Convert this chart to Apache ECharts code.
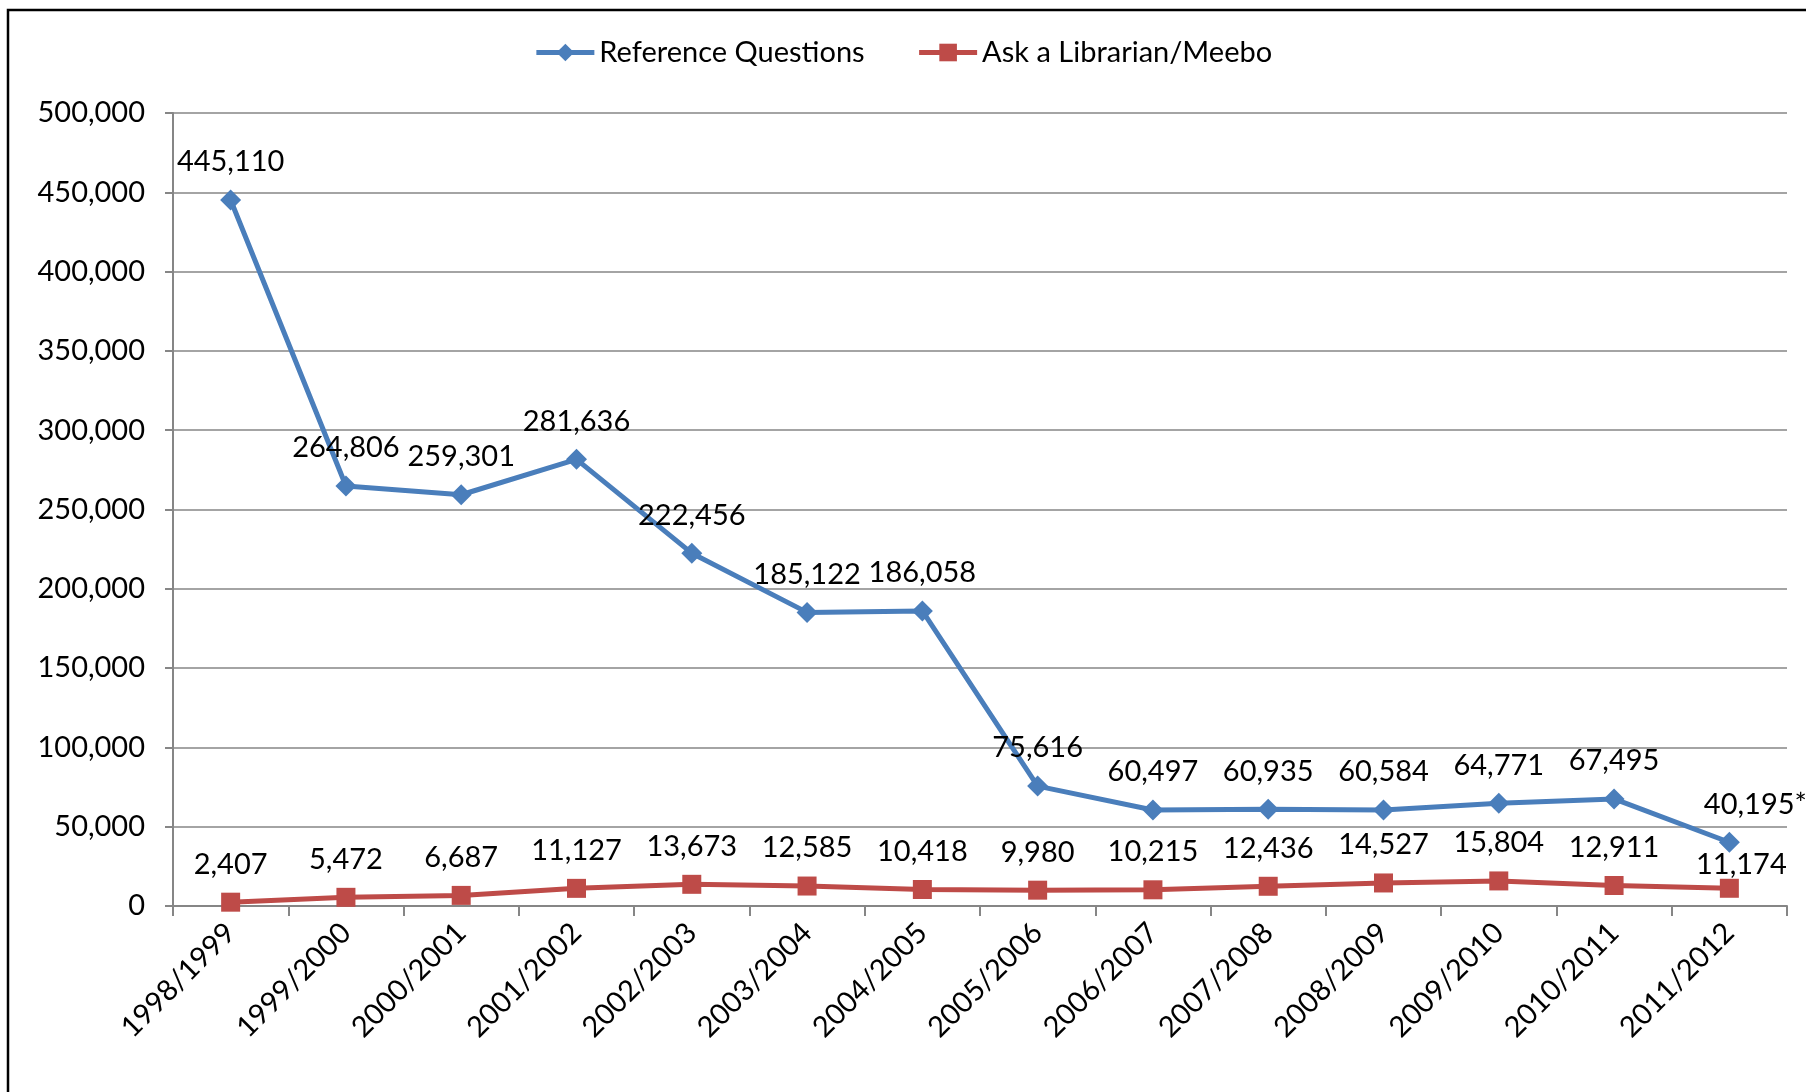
<!DOCTYPE html>
<html>
<head>
<meta charset="utf-8">
<script src="https://cdn.jsdelivr.net/npm/echarts@6/dist/echarts.min.js"></script>
<style>
  html, body { margin: 0; padding: 0; background: #fff; }
  #main { width: 1806px; height: 1092px; }
</style>
</head>
<body>
<div id="main"></div>
<script>
var years = ['1998/1999', '1999/2000', '2000/2001', '2001/2002', '2002/2003', '2003/2004', '2004/2005',
	'2005/2006', '2006/2007', '2007/2008', '2008/2009', '2009/2010', '2010/2011', '2011/2012'];
var refQuestions = [445110, 264806, 259301, 281636, 222456, 185122, 186058, 75616, 60497, 60935, 60584, 64771, 67495, 40195];
var askLibrarian = [2407, 5472, 6687, 11127, 13673, 12585, 10418, 9980, 10215, 12436, 14527, 15804, 12911, 11174];
var yTicks = [0, 50000, 100000, 150000, 200000, 250000, 300000, 350000, 400000, 450000, 500000];

var fontName = 'Lato';
var fontSz = 29;
function fmt(v) { return v.toLocaleString('en-US'); }

var myChart = echarts.init(document.getElementById('main'));

// last reference point carries an asterisk in the original
var refData = refQuestions.map(function(v, i) {
	if (i === refQuestions.length - 1) {
		return { value: v, label: { formatter: fmt(v) + '*', offset: [26, 0] } };
	}
	return v;
});
var askData = askLibrarian.map(function(v, i) {
	if (i === askLibrarian.length - 1) {
		return { value: v, label: { offset: [12, 14] } };
	}
	return v;
});

var option = {
	backgroundColor: '#fff',
	animation: false,
	graphic: [{
		type: 'rect',
		shape: { x: 8, y: 10, width: 1900, height: 1200 },
		style: { fill: 'none', stroke: '#000', lineWidth: 2.5 }
	}],
	legend: {
		top: 33,
		left: 'center',
		itemWidth: 58,
		itemHeight: 22,
		itemGap: 52,
		lineStyle: { width: 5 },
		textStyle: { fontFamily: fontName, fontSize: fontSz, color: '#000' },
		data: ['Reference Questions', 'Ask a Librarian/Meebo']
	},
	grid: { left: 173, right: 19, top: 113, bottom: 186 },
	xAxis: {
		type: 'category',
		data: years,
		boundaryGap: true,
		axisLine: { lineStyle: { color: '#868686', width: 2 } },
		axisTick: { show: true, alignWithLabel: false, length: 10, lineStyle: { color: '#868686', width: 2 } },
		axisLabel: { rotate: 45, margin: 22, fontFamily: fontName, fontSize: fontSz, color: '#000', interval: 0 }
	},
	yAxis: {
		type: 'value',
		min: 0,
		max: 500000,
		interval: 50000,
		axisLine: { show: true, lineStyle: { color: '#868686', width: 2 } },
		axisTick: { show: true, length: 8, lineStyle: { color: '#868686', width: 2 } },
		axisLabel: {
			margin: 28, fontFamily: fontName, fontSize: fontSz, color: '#000',
			formatter: function(v) { return yTicks.indexOf(v) >= 0 ? fmt(v) : ''; }
		},
		splitLine: { lineStyle: { color: '#868686', width: 1.5 } }
	},
	series: [{
		name: 'Reference Questions',
		type: 'line',
		data: refData,
		symbol: 'diamond',
		symbolSize: 21,
		lineStyle: { color: '#4A7EBB', width: 5 },
		itemStyle: { color: '#4A7EBB' },
		label: {
			show: true, position: 'top', distance: 13,
			fontFamily: fontName, fontSize: fontSz, color: '#000',
			formatter: function(p) { return fmt(p.value); }
		}
	}, {
		name: 'Ask a Librarian/Meebo',
		type: 'line',
		data: askData,
		symbol: 'rect',
		symbolSize: 19,
		lineStyle: { color: '#BE4B48', width: 5 },
		itemStyle: { color: '#BE4B48' },
		label: {
			show: true, position: 'top', distance: 14,
			fontFamily: fontName, fontSize: fontSz, color: '#000',
			formatter: function(p) { return fmt(p.value); }
		}
	}]
};

myChart.setOption(option);
window.onresize = function() { myChart.resize(); };
</script>
</body>
</html>
